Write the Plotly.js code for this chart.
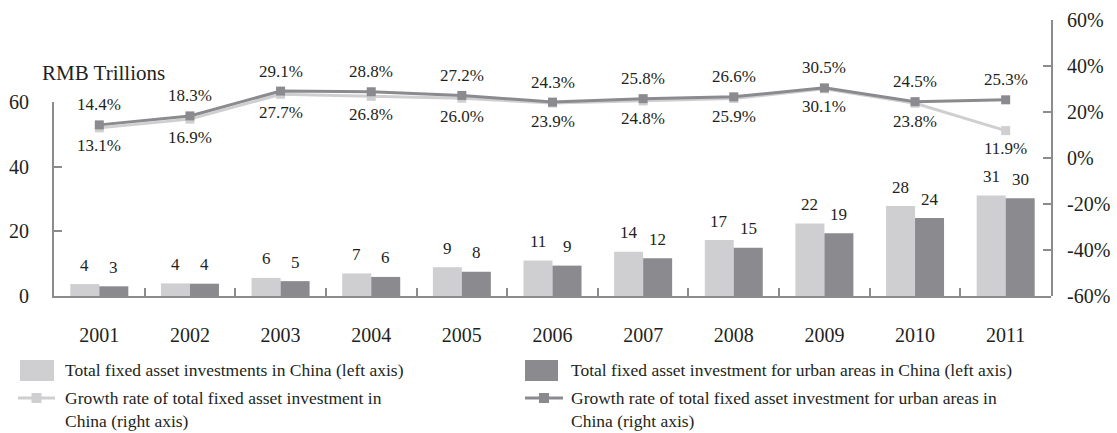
<!DOCTYPE html>
<html>
<head>
<meta charset="utf-8">
<script src="https://cdn.plot.ly/plotly-3.0.1.min.js"></script>
<style>html,body{margin:0;padding:0;background:#fff;}#chart{width:1117px;height:433px;}</style>
</head>
<body>
<div id="chart"></div>
<script>
// ---- data ----
var years = ["2001","2002","2003","2004","2005","2006","2007","2008","2009","2010","2011"];
var totalInvestment = [3.7, 3.9, 5.6, 7.0, 8.9, 11.0, 13.7, 17.3, 22.4, 27.8, 31.1];   // RMB trillions
var urbanInvestment = [3.0, 3.8, 4.6, 5.9, 7.5, 9.4, 11.7, 14.9, 19.4, 24.1, 30.2];    // RMB trillions
var totalGrowth = [13.1, 16.9, 27.7, 26.8, 26.0, 23.9, 24.8, 25.9, 30.1, 23.8, 11.9];  // %
var urbanGrowth = [14.4, 18.3, 29.1, 28.8, 27.2, 24.3, 25.8, 26.6, 30.5, 24.5, 25.3];  // %
var leftTicks = [0, 20, 40, 60];
var rightTicks = [-60, -40, -20, 0, 20, 40, 60];
var seriesNames = [
  "Total fixed asset investments in China (left axis)",
  "Total fixed asset investment for urban areas in China (left axis)",
  "Growth rate of total fixed asset investment in<br>China (right axis)",
  "Growth rate of total fixed asset investment for urban areas in<br>China (right axis)"
];
var leftUnit = "RMB Trillions";

// ---- styles ----
var LIGHT = "#cfcfd1", DARK = "#8b8b8f", AXIS = "#8c8c8c", TXT = "#231f20";
var FONT = "Liberation Serif";
var W = 1117, H = 433, ML = 54, MR = 66, MT = 20, MB = 137;
var PW = W - ML - MR, PH = H - MT - MB;
function px(x){ return (x - ML) / PW; }
function py(y){ return (H - MB - y) / PH; }

var traces = [
  {type:"bar", x:years, y:totalInvestment, name:seriesNames[0], marker:{color:LIGHT}, xaxis:"x", yaxis:"y", hoverinfo:"x+y"},
  {type:"bar", x:years, y:urbanInvestment, name:seriesNames[1], marker:{color:DARK}, xaxis:"x", yaxis:"y", hoverinfo:"x+y"},
  {type:"scatter", mode:"lines+markers", x:years, y:totalGrowth, name:seriesNames[2],
   line:{color:LIGHT, width:3}, marker:{symbol:"square", size:9, color:LIGHT}, xaxis:"x", yaxis:"y2", cliponaxis:false},
  {type:"scatter", mode:"lines+markers", x:years, y:urbanGrowth, name:seriesNames[3],
   line:{color:DARK, width:3}, marker:{symbol:"square", size:9, color:DARK}, xaxis:"x", yaxis:"y2", cliponaxis:false}
];

var annotations = [];
var off = 0.16;
var lblFont = {family:FONT, size:17, color:TXT};
years.forEach(function(yr, i){
  annotations.push({xref:"x", yref:"y", x:i-off, y:totalInvestment[i], text:String(Math.round(totalInvestment[i])),
    showarrow:false, yanchor:"middle", yshift:19, font:lblFont});
  annotations.push({xref:"x", yref:"y", x:i+off, y:urbanInvestment[i], text:String(Math.round(urbanInvestment[i])),
    showarrow:false, yanchor:"middle", yshift:19, font:lblFont});
  annotations.push({xref:"x", yref:"y2", x:i, y:urbanGrowth[i], text:urbanGrowth[i].toFixed(1)+"%",
    showarrow:false, yanchor:"middle", yshift:20, font:lblFont});
  annotations.push({xref:"x", yref:"y2", x:i, y:totalGrowth[i], text:totalGrowth[i].toFixed(1)+"%",
    showarrow:false, yanchor:"middle", yshift:-18, font:lblFont});
});
annotations.push({xref:"paper", yref:"paper", x:px(40), y:py(73), xanchor:"left", yanchor:"middle",
  text:leftUnit, showarrow:false, font:{family:FONT, size:21, color:TXT}});

// legend (custom)
var shapes = [];
var legendItems = [
  {kind:"bar", color:LIGHT, x0:20, x1:54, yc:370, tx:63, name:seriesNames[0]},
  {kind:"bar", color:DARK, x0:525, x1:558, yc:370, tx:569, name:seriesNames[1]},
  {kind:"line", color:LIGHT, x0:18, x1:55, yc:398, tx:63, name:seriesNames[2]},
  {kind:"line", color:DARK, x0:525, x1:563, yc:398, tx:569, name:seriesNames[3]}
];
legendItems.forEach(function(it){
  if(it.kind==="bar"){
    shapes.push({type:"rect", xref:"paper", yref:"paper", x0:px(it.x0), x1:px(it.x1), y0:py(it.yc+11), y1:py(it.yc-10),
      fillcolor:it.color, line:{width:0}});
  } else {
    shapes.push({type:"line", xref:"paper", yref:"paper", x0:px(it.x0), x1:px(it.x1), y0:py(it.yc), y1:py(it.yc),
      line:{color:it.color, width:3}});
    var mc = (it.x0+it.x1)/2;
    shapes.push({type:"rect", xref:"paper", yref:"paper", x0:px(mc-5), x1:px(mc+5), y0:py(it.yc+5), y1:py(it.yc-5),
      fillcolor:it.color, line:{width:0}});
  }
  annotations.push({xref:"paper", yref:"paper", x:px(it.tx), y:py(it.yc-12), xanchor:"left", yanchor:"top", align:"left",
    text:it.name, showarrow:false, font:{family:FONT, size:17.5, color:TXT}});
});

var tickFont = {family:FONT, size:20, color:TXT};
var layout = {
  width:W, height:H,
  margin:{l:ML, r:MR, t:MT, b:MB, pad:0},
  paper_bgcolor:"#fff", plot_bgcolor:"rgba(0,0,0,0)",
  showlegend:false,
  barmode:"group", bargap:0.36, bargroupgap:0,
  font:{family:FONT, color:TXT},
  xaxis:{type:"category", range:[-0.5,10.5], domain:[0,1], anchor:"y", showline:true, linecolor:AXIS, linewidth:2,
    ticks:"inside", tickson:"boundaries", ticklen:8, tickwidth:2, tickcolor:AXIS, showgrid:false, zeroline:false,
    tickfont:tickFont, ticklabelstandoff:20},
  yaxis:{domain:[0, 194/276], range:[0,60], tickvals:leftTicks, anchor:"x", side:"left", showline:true, linecolor:AXIS, linewidth:2,
    ticks:"inside", ticklen:8, tickwidth:2, tickcolor:AXIS, showgrid:false, zeroline:false,
    tickfont:tickFont, ticklabelstandoff:19},
  yaxis2:{domain:[0,1], range:[-60,60], tickvals:rightTicks, ticktext:rightTicks.map(function(v){return v+"%";}),
    anchor:"x", side:"right", showline:true, linecolor:AXIS, linewidth:2,
    ticks:"inside", ticklen:8, tickwidth:2, tickcolor:AXIS, showgrid:false, zeroline:false,
    tickfont:tickFont, ticklabelstandoff:10},
  annotations:annotations,
  shapes:shapes
};

Plotly.newPlot("chart", traces, layout, {displayModeBar:false, staticPlot:true});
</script>
</body>
</html>
